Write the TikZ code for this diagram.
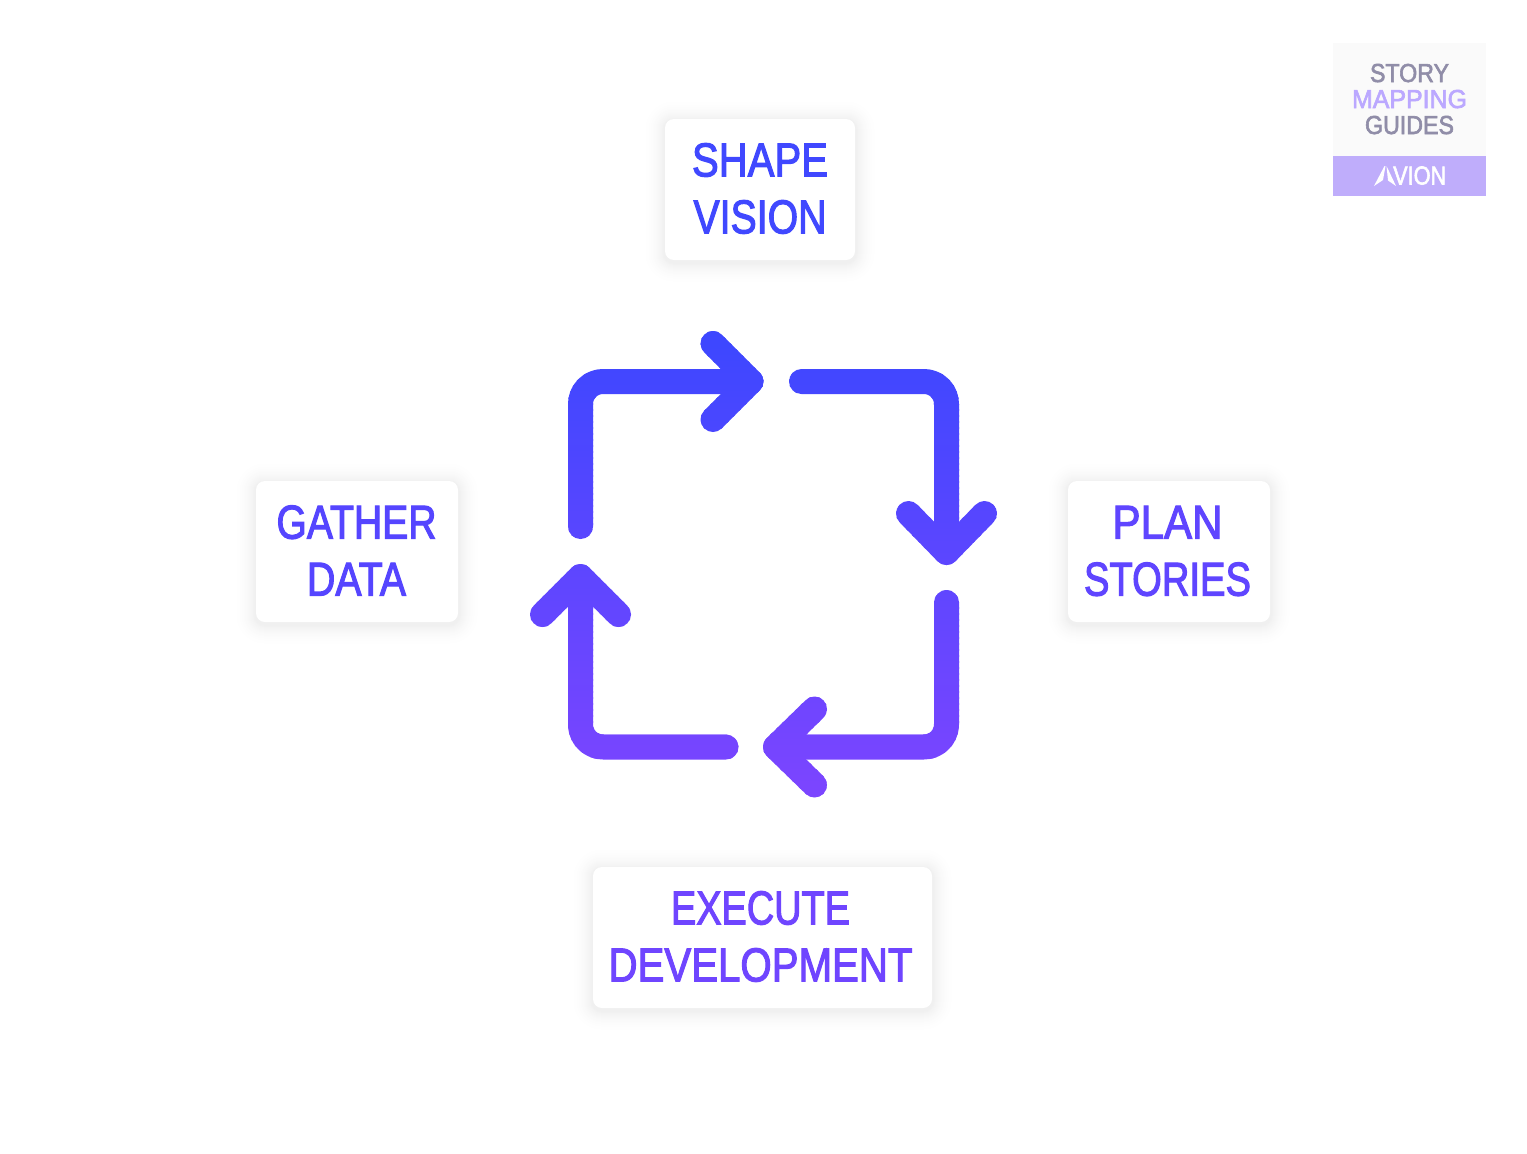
\documentclass[tikz,border=0pt]{standalone}
\usepackage{fontspec}
\usepackage{graphicx}
\usetikzlibrary{calc}
\setmainfont[FakeBold=2.5]{Liberation Sans}
\newfontfamily\logofont[FakeBold=2.5]{Liberation Sans}
\definecolor{cshape}{HTML}{4048FF}
\definecolor{cgather}{HTML}{5545FF}
\definecolor{cplan}{HTML}{5F45FF}
\definecolor{cexec}{HTML}{6F45FF}
\definecolor{cgrey}{HTML}{908DA8}
\definecolor{clilac}{HTML}{BBA8FF}
\definecolor{cband}{HTML}{BFADFB}
\newcommand{\fitw}[2]{\resizebox{#1pt}{\height}{#2}}
\tikzset{
  x=1pt,y=-1pt,
  card/.style={draw=none,fill=white,rounded corners=9pt,inner sep=0pt,outer sep=0pt},
  cardtext/.style={font=\fontsize{47.5}{57}\selectfont,align=center,inner sep=0pt,outer sep=0pt},
  logotext/.style={font=\logofont\fontsize{26}{26}\selectfont,align=center,inner sep=0pt,outer sep=0pt,anchor=base},
  loop line/.style={line width=25pt,line cap=round,line join=round},
}
\newcommand{\softshadow}[4]{%
  \foreach \i in {22,21,...,1}{%
    \pgfmathsetmacro{\gv}{100-6.5*(1-\i/23)*(1-\i/23)}
    \fill[black!\gv!white,fill=white!\gv!black,rounded corners=9pt+\i pt]
      (#1-\i,#2-\i+2) rectangle (#3+\i,#4+\i+2);
  }}
\newcommand{\looparrows}{%
  \draw[loop line] (a1) -- ($(a1c)+(0,22.5)$) arc[start angle=180,end angle=270,radius=22.5] -- (a1t);
  \draw[loop line] (a1h1) -- (a1t) -- (a1h2);
  \draw[loop line] (a2) -- ($(a2c)+(-22.5,0)$) arc[start angle=270,end angle=360,radius=22.5] -- (a2t);
  \draw[loop line] (a2h1) -- (a2t) -- (a2h2);
  \draw[loop line] (a3) -- ($(a3c)+(0,-22.5)$) arc[start angle=0,end angle=90,radius=22.5] -- (a3t);
  \draw[loop line] (a3h1) -- (a3t) -- (a3h2);
  \draw[loop line] (a4) -- ($(a4c)+(22.5,0)$) arc[start angle=90,end angle=180,radius=22.5] -- (a4t);
  \draw[loop line] (a4h1) -- (a4t) -- (a4h2);
}
\begin{document}
\begin{tikzpicture}
\useasboundingbox (0,0) rectangle (1527,1154);
\fill[white] (0,0) rectangle (1527,1154);
% logo
\fill[black!2] (1333,43) rectangle (1486,156);
\fill[cband] (1333,156) rectangle (1486,196);
\node[logotext,text=cgrey] (story) at (1409.5,82) {\fitw{79}{STORY}};
\node[logotext,text=clilac] (mapping) at (1409.5,108) {\fitw{115}{MAPPING}};
\node[logotext,text=cgrey] (guides) at (1409.5,134) {\fitw{89}{GUIDES}};
\fill[white] (1374,186) -- (1384.5,166) -- (1385.5,166) -- (1383,180) -- cycle;
\fill[white] (1386.5,166) -- (1396,186) -- (1388,180.5) -- cycle;
\node[font=\logofont\fontsize{26}{26}\selectfont,text=white,anchor=base west,inner sep=0pt] (avion) at (1393,184.5) {\fitw{53}{VION}};
% cards
\softshadow{665}{119}{855}{260}
\softshadow{256}{481}{458}{622}
\softshadow{1068}{481}{1270}{622}
\softshadow{593}{867}{932}{1008}
\path[card] (665,119) rectangle (855,260);
\path[card] (256,481) rectangle (458,622);
\path[card] (1068,481) rectangle (1270,622);
\path[card] (593,867) rectangle (932,1008);
\node[cardtext,text=cshape] (shape) at (760,188.5) {\fitw{136}{SHAPE}\\\fitw{133}{VISION}};
\node[cardtext,text=cgather] (gather) at (356.5,550.5) {\fitw{160}{GATHER}\\\fitw{99}{DATA}};
\node[cardtext,text=cplan] (plan) at (1167.5,551) {\fitw{110}{PLAN}\\\fitw{167}{STORIES}};
\node[cardtext,text=cexec] (exec) at (760.5,936.5) {\fitw{179}{EXECUTE}\\\fitw{304}{DEVELOPMENT}};
% arrow coordinates
\coordinate (a1) at (580.5,526.5); \coordinate (a1c) at (580.5,381.5); \coordinate (a1t) at (751,381.5);
\coordinate (a1h1) at (713,343.5); \coordinate (a1h2) at (713,419.5);
\coordinate (a2) at (801.5,381.5); \coordinate (a2c) at (946.5,381.5); \coordinate (a2t) at (946.5,552.5);
\coordinate (a2h1) at (908.5,513.5); \coordinate (a2h2) at (984.5,513.5);
\coordinate (a3) at (946.5,602.5); \coordinate (a3c) at (946.5,747); \coordinate (a3t) at (775.5,747);
\coordinate (a3h1) at (814.5,709); \coordinate (a3h2) at (814.5,785);
\coordinate (a4) at (726,747); \coordinate (a4c) at (580.5,747); \coordinate (a4t) at (580.5,576.5);
\coordinate (a4h1) at (542.5,614.5); \coordinate (a4h2) at (618.5,614.5);
% vertical gradient painted in slightly overlapping bands
\definecolor{gtop}{HTML}{3C47FF}
\definecolor{gbot}{HTML}{7D45FF}
\foreach \k in {0,...,79}{%
  \pgfmathsetmacro{\yy}{325+6*\k}
  \pgfmathsetmacro{\yz}{\yy+7}
  \pgfmathsetmacro{\pc}{\k/79*100}
  \begin{scope}
    \clip (500,\yy) rectangle (1030,\yz);
    \colorlet{cur}{gbot!\pc!gtop}
    \tikzset{loop line/.append style={draw=cur}}
    \looparrows
  \end{scope}
}
\end{tikzpicture}
\end{document}
